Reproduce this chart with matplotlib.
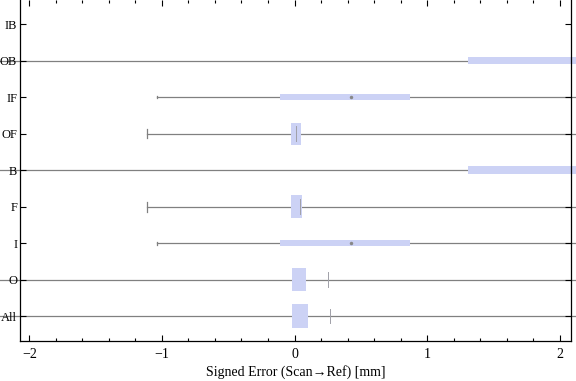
import numpy as np
import matplotlib.pyplot as plt
from matplotlib.ticker import MultipleLocator

# categories from bottom to top
categories = ["All", "O", "I", "F", "B", "OF", "IF", "OB", "IB"]
# box-whisker statistics (None = empty group)
whisker_lo = [-2.6, -2.6, -1.034, -1.11, -2.6, -1.11, -1.034, -2.6, None]
q1 = [-0.02, -0.02, -0.106, -0.03, 1.31, -0.03, -0.106, 1.31, None]
q3 = [0.098, 0.083, 0.868, 0.06, 3.0, 0.05, 0.868, 3.0, None]
whisker_hi = [3.0, 3.0, 3.0, 3.0, 4.0, 3.0, 3.0, 4.0, None]
marks = [0.264, 0.254, 0.428, 0.045, None, 0.015, 0.428, None, None]

# box thickness (in category units) for each group
box_h = [0.65, 0.62, 0.17, 0.62, 0.2, 0.6, 0.17, 0.2, 0]

BOX_COLOR = "#ccd2f5"
LINE_COLOR = "#808080"

plt.rcParams["font.family"] = ["Liberation Serif", "DejaVu Serif"]

fig = plt.figure(figsize=(5.76, 3.81), dpi=100)
ax = fig.add_axes([20 / 576, 40 / 381, 551 / 576, 341 / 381])

ypos = np.arange(1, len(categories) + 1)
for i, y in enumerate(ypos):
    if whisker_lo[i] is None:
        continue
    ax.plot([whisker_lo[i], whisker_hi[i]], [y, y], color=LINE_COLOR, lw=0.9,
            clip_on=False, zorder=1)
    if whisker_lo[i] > -2.1:
        cap = box_h[i] * 0.22
        ax.plot([whisker_lo[i]] * 2, [y - cap, y + cap],
                color=LINE_COLOR, lw=0.9, zorder=1)
    ax.fill_between([q1[i], q3[i]], y - box_h[i] / 2, y + box_h[i] / 2,
                    color=BOX_COLOR, lw=0, clip_on=False, zorder=2)
    if marks[i] is not None:
        if box_h[i] > 0.3:
            ax.plot([marks[i]] * 2, [y - 0.2, y + 0.2], color="#a0a0a8", lw=0.7, zorder=3)
        else:
            ax.plot(marks[i], y, marker="o", ms=2.5, color="#888888", mec="none", zorder=3)

ax.set_xlim(-2.07, 2.085)
ax.set_ylim(0.32, 9.66)
ax.set_yticks(ypos)
ax.set_yticklabels(categories)
ax.xaxis.set_major_locator(MultipleLocator(1))
ax.xaxis.set_minor_locator(MultipleLocator(0.2))
ax.set_xticklabels([f"\u2212{-int(v)}" if v < 0 else f"{int(v)}" for v in ax.get_xticks()])

ax.tick_params(axis="x", which="major", direction="in", length=4, width=0.8,
               top=True, labelsize=10, pad=5)
ax.tick_params(axis="x", which="minor", direction="in", length=2.2, width=0.8, top=True)
ax.tick_params(axis="y", which="major", direction="in", length=4, width=0.8,
               right=True, labelsize=9, pad=2)
for s in ax.spines.values():
    s.set_linewidth(0.9)
ax.spines["top"].set_visible(False)

ax.set_xlabel("Signed Error (Scan\u2192Ref) [mm]", fontsize=10, labelpad=3)

plt.savefig("out.png", dpi=100)
